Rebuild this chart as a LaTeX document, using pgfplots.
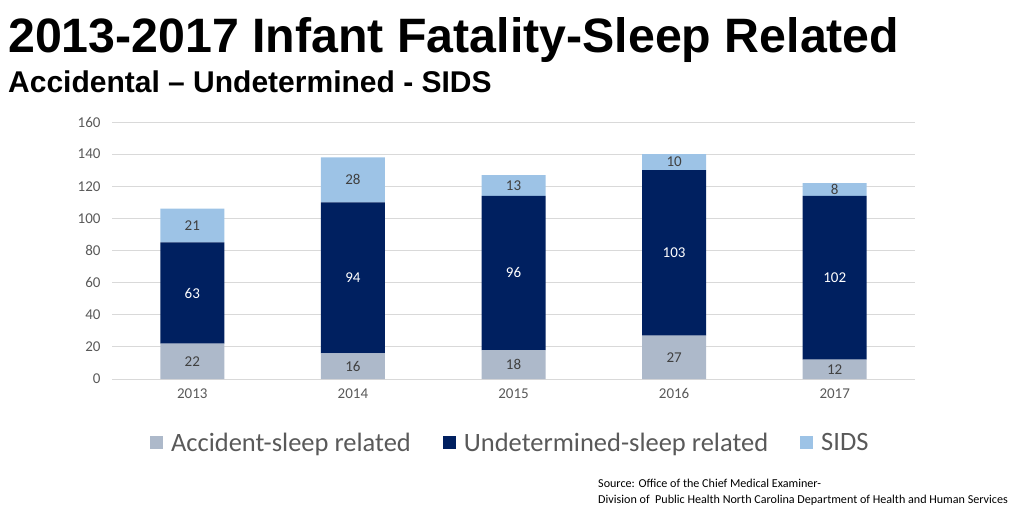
\documentclass[border=0pt]{standalone}
\usepackage{pgfplots}
\pgfplotsset{compat=1.18}
\usepackage{fontspec}
\setmainfont{Carlito}
\newfontfamily\arial{Liberation Sans}
\definecolor{accc}{HTML}{ADB9CA}
\definecolor{undc}{HTML}{002060}
\definecolor{sidc}{HTML}{9DC3E6}
\definecolor{gridc}{HTML}{D9D9D9}
\definecolor{tickc}{HTML}{595959}
\definecolor{labc}{HTML}{404040}
\begin{document}
\begin{tikzpicture}
\useasboundingbox (0,0) rectangle (1024pt,-510pt);
\node[anchor=base west, inner sep=0pt] at (8pt,-53pt) {\arial\bfseries\fontsize{48.3}{48}\selectfont 2013-2017 Infant Fatality-Sleep Related};
\node[anchor=base west, inner sep=0pt] at (8pt,-93pt) {\arial\bfseries\fontsize{30}{30}\selectfont Accidental – Undetermined - SIDS};
\begin{axis}[
  at={(112pt,-379pt)}, anchor=south west,
  scale only axis, width=803pt, height=257pt,
  ybar stacked, bar width=64pt,
  xmin=-0.5, xmax=4.5, ymin=0, ymax=160,
  xtick={0,1,2,3,4}, xticklabels={2013,2014,2015,2016,2017},
  ytick={0,20,...,160},
  ymajorgrids, grid style={gridc, line width=0.8pt},
  axis line style={draw=none},
  major tick length=0pt,
  /pgf/number format/assume math mode=true,
  tick label style={font=\fontsize{15}{15}\selectfont, text=tickc},
  yticklabel style={xshift=-8pt},
  xticklabel style={yshift=-6pt},
  legend columns=3,
  legend style={at={(0.496,-0.249)}, anchor=center, draw=none, fill=none,
    font=\fontsize{26.5}{26.5}\selectfont, text=tickc,
    /tikz/every odd column/.append style={column sep=6pt},
    /tikz/every even column/.append style={column sep=30pt}},
  legend image code/.code={\fill[#1] (0pt,-6.5pt) rectangle (13pt,6.5pt);},
]
\addplot[fill=accc, draw=none] coordinates {(0,22) (1,16) (2,18) (3,27) (4,12)};
\addplot[fill=undc, draw=none] coordinates {(0,63) (1,94) (2,96) (3,103) (4,102)};
\addplot[fill=sidc, draw=none] coordinates {(0,21) (1,28) (2,13) (3,10) (4,8)};
\legend{Accident-sleep related, Undetermined-sleep related, SIDS}
\end{axis}
\begin{axis}[
  at={(112pt,-379pt)}, anchor=south west,
  scale only axis, width=803pt, height=257pt,
  xmin=-0.5, xmax=4.5, ymin=0, ymax=160,
  hide axis,
  nodes near coords,
  point meta=explicit symbolic,
  every node near coord/.append style={anchor=center, font=\fontsize{15}{15}\selectfont},
]
\addplot[draw=none, mark=none, nodes near coords style={text=labc}]
  coordinates {(0,11) [22] (1,8) [16] (2,9) [18] (3,13.5) [27] (4,6) [12]
               (0,95.5) [21] (1,124) [28] (2,120.5) [13] (3,135) [10] (4,118) [8]};
\addplot[draw=none, mark=none, nodes near coords style={text=white}]
  coordinates {(0,53.5) [63] (1,63) [94] (2,66) [96] (3,78.5) [103] (4,63) [102]};
\end{axis}
\node[anchor=base west, inner sep=0pt] at (598pt,-487pt) {\fontsize{12.1}{12}\selectfont Source: Office of the Chief Medical Examiner-};
\node[anchor=base west, inner sep=0pt] at (598pt,-503pt) {\fontsize{12.1}{12}\selectfont Division of\ \ Public Health North Carolina Department of Health and Human Services};
\end{tikzpicture}
\end{document}
